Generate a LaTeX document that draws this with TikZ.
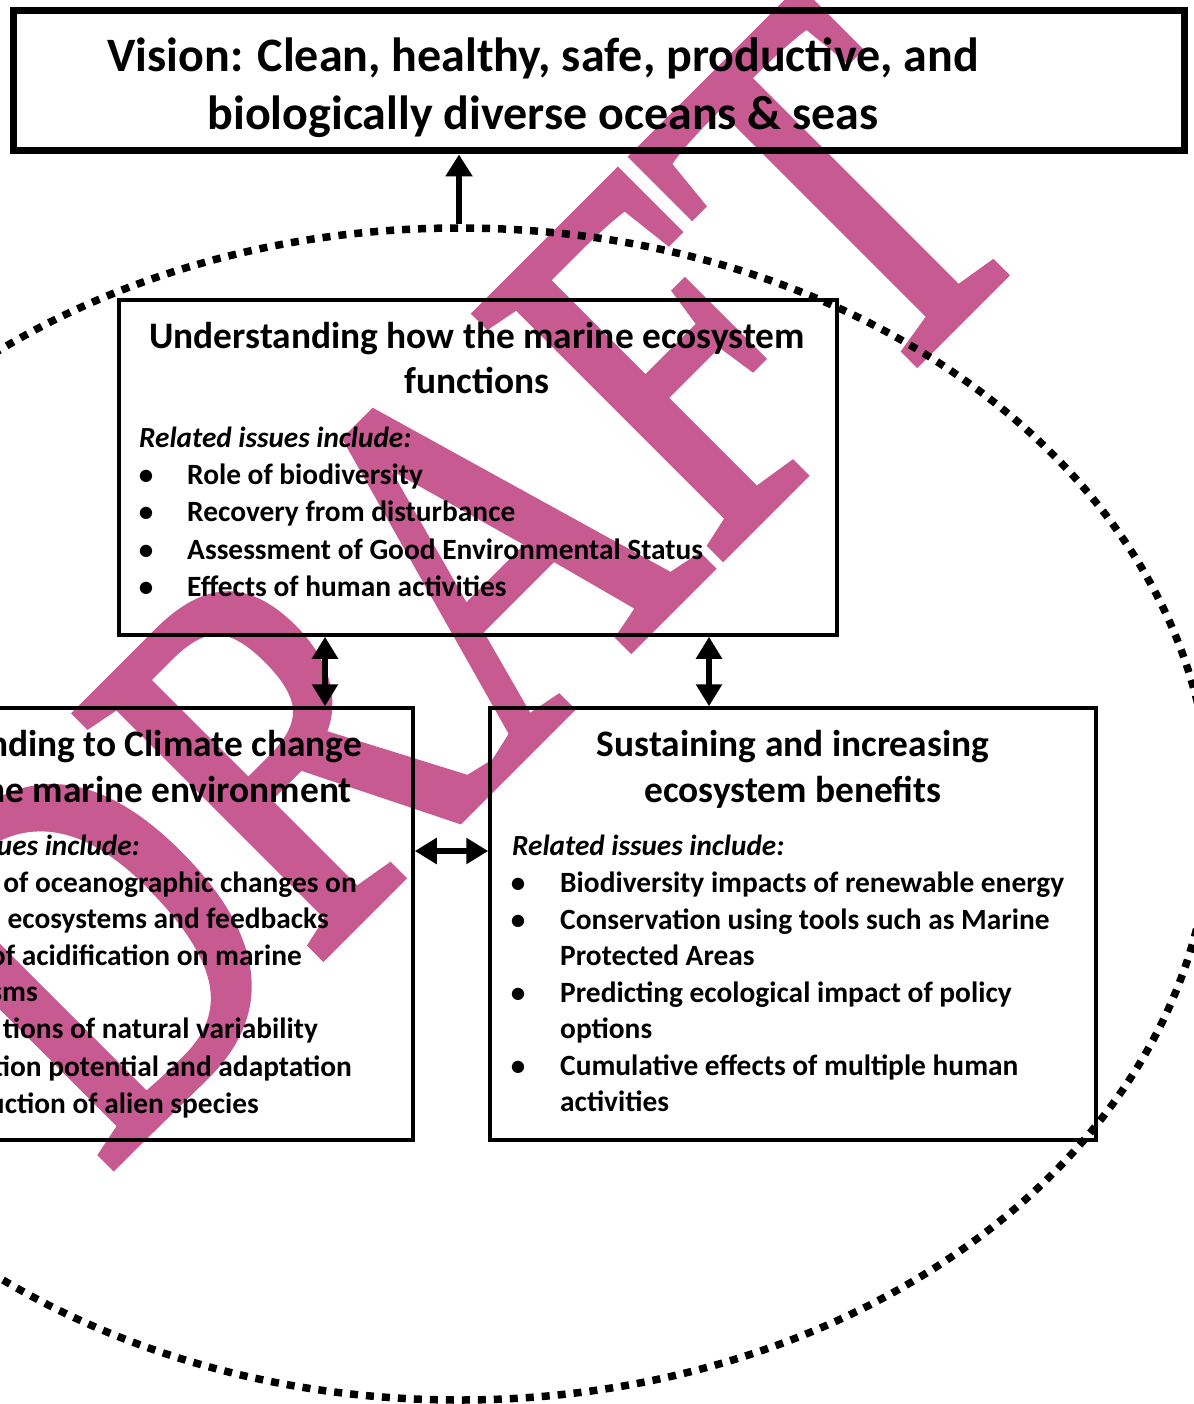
\documentclass[tikz,border=0pt]{standalone}
\usepackage{fontspec}
\setmainfont{Carlito}
\newfontfamily\draftfont[FakeBold=2]{Liberation Serif}
\usetikzlibrary{arrows.meta,shapes.geometric}
\definecolor{draftpink}{RGB}{200,90,146}

\begin{document}
\begin{tikzpicture}[
    x=1pt, y=-1pt,
    visionbox/.style={rectangle, draw, line width=7pt, minimum width=1171pt, minimum height=140pt, inner sep=0pt},
    areabox/.style={rectangle, draw, line width=3.5pt, inner sep=0pt},
    titletext/.style={font=\fontsize{48}{58}\selectfont\bfseries, anchor=base, inner sep=0pt},
    heading/.style={font=\fontsize{37.4}{45}\selectfont\bfseries, anchor=base, inner sep=0pt},
    related/.style={font=\fontsize{29.2}{37}\selectfont\bfseries\itshape, anchor=base west, inner sep=0pt},
    itemtext/.style={font=\fontsize{29.4}{37}\selectfont\bfseries, anchor=base west, inner sep=0pt},
    cuttext/.style={itemtext, anchor=base east},
    bul/.style={font=\fontsize{29}{37}\selectfont\bfseries, anchor=base, inner sep=0pt},
    link/.style={{Triangle[width=25pt,length=22pt]}-{Triangle[width=25pt,length=22pt]}, line width=6pt},
    toarrow/.style={-{Triangle[width=26pt,length=22pt]}, line width=6pt}
]
\useasboundingbox (0,0) rectangle (1193,1404);

% watermark behind everything
\node (draft) [rotate=45, anchor=base west, inner sep=0pt, text=draftpink, font=\draftfont\fontsize{407}{407}\selectfont] at (104.5,1173.5) {\scalebox{1}[1.29]{DRAFT}};

% dotted ellipse round the three areas
\node (eco) [ellipse, draw, line width=7.5pt, dash pattern=on 8pt off 8pt, minimum width=1504pt, minimum height=1172pt, inner sep=0pt] at (459,814) {};

% boxes
\node (vision) [visionbox] at (598.5,81) {};
\node (understand) [areabox, minimum width=718pt, minimum height=335pt] at (478,467.5) {};
\node (climate) [areabox, minimum width=613pt, minimum height=432pt] at (106.5,924) {};
\node (benefit) [areabox, minimum width=606pt, minimum height=432pt] at (793,924) {};

% vision
\node (vis1) [titletext] at (543,72) {Vision: Clean, healthy, safe, productive, and};
\node (vis2) [titletext] at (543,130) {biologically diverse oceans \& seas};

% understanding
\node (und1) [heading] at (477,348) {Understanding how the marine ecosystem};
\node (und2) [heading] at (477,393) {functions};
\node (undrel) [related] at (139,447) {Related issues include:};
\node (ub1) [bul] at (146,484) {•};
\node (ub2) [bul] at (146,521) {•};
\node (ub3) [bul] at (146,559) {•};
\node (ub4) [bul] at (146,596) {•};
\node (ui1) [itemtext] at (187,484) {Role of biodiversity};
\node (ui2) [itemtext] at (187,521) {Recovery from disturbance};
\node (ui3) [itemtext] at (187,559) {Assessment of Good Environmental Status};
\node (ui4) [itemtext] at (187,596) {Effects of human activities};

% climate (cut at the left edge)
\node (cli1) [heading, anchor=base east] at (362,756) {nding to Climate change};
\node (cli2) [heading, anchor=base east] at (352,802) {he marine environment};
\node (clirel) [related, anchor=base east] at (140,855) {ues include:};
\node (ci1) [cuttext] at (357,892) {of oceanographic changes on};
\node (ci2) [cuttext] at (329,928) {ecosystems and feedbacks};
\node (ci3) [cuttext] at (302,965) {of acidification on marine};
\node (ci4) [cuttext] at (38,1001) {sms};
\node (ci5) [cuttext] at (318,1038) {tions of natural variability};
\node (ci6) [cuttext] at (352,1076) {tion potential and adaptation};
\node (ci7) [cuttext] at (259,1113) {uction of alien species};

% benefits
\node (ben1) [heading] at (793,756) {Sustaining and increasing};
\node (ben2) [heading] at (793,802) {ecosystem benefits};
\node (benrel) [related] at (512,855) {Related issues include:};
\node (bb1) [bul] at (518,892) {•};
\node (bb2) [bul] at (518,929) {•};
\node (bb3) [bul] at (518,1002) {•};
\node (bb4) [bul] at (518,1075) {•};
\node (bi1) [itemtext] at (560,892) {Biodiversity impacts of renewable energy};
\node (bi2) [itemtext] at (560,929) {Conservation using tools such as Marine};
\node (bi2b) [itemtext] at (560,965) {Protected Areas};
\node (bi3) [itemtext] at (560,1002) {Predicting ecological impact of policy};
\node (bi3b) [itemtext] at (560,1038) {options};
\node (bi4) [itemtext] at (560,1075) {Cumulative effects of multiple human};
\node (bi4b) [itemtext] at (560,1111) {activities};

% connectors
\coordinate (lx) at (325,0);
\coordinate (rx) at (709,0);
\coordinate (my) at (0,851);
\draw [toarrow] (eco.north) -- (eco.north |- vision.south);
\draw [link] (understand.south -| lx) -- (climate.north -| lx);
\draw [link] (understand.south -| rx) -- (benefit.north -| rx);
\draw [link] (climate.east |- my) -- (benefit.west |- my);
\end{tikzpicture}
\end{document}
